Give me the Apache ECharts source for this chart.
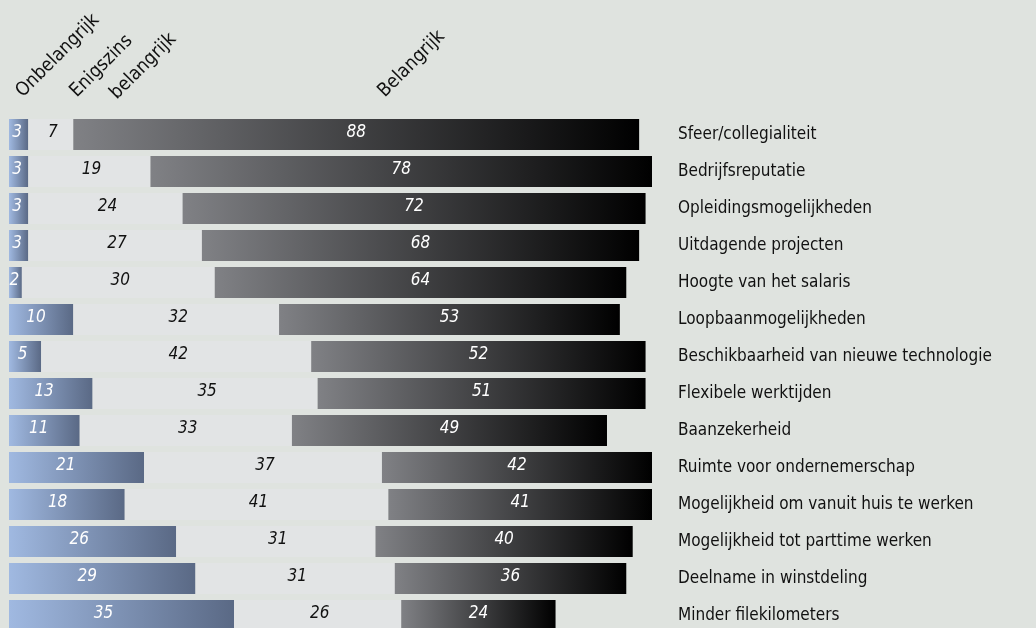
<!DOCTYPE html>
<html>
<head>
<meta charset="utf-8">
<script src="https://cdn.jsdelivr.net/npm/echarts@6/dist/echarts.min.js"></script>
<style>
  html, body { margin: 0; padding: 0; background: #dfe3df; }
  #chart { width: 1036px; height: 628px; }
</style>
</head>
<body>
<div id="chart"></div>
<script>
  const categories = [
    'Sfeer/collegialiteit', 'Bedrijfsreputatie', 'Opleidingsmogelijkheden',
    'Uitdagende projecten', 'Hoogte van het salaris', 'Loopbaanmogelijkheden',
    'Beschikbaarheid van nieuwe technologie', 'Flexibele werktijden', 'Baanzekerheid',
    'Ruimte voor ondernemerschap', 'Mogelijkheid om vanuit huis te werken',
    'Mogelijkheid tot parttime werken', 'Deelname in winstdeling', 'Minder filekilometers'
  ]
  const onbelangrijk = [3, 3, 3, 3, 2, 10, 5, 13, 11, 21, 18, 26, 29, 35]
  const enigszins = [7, 19, 24, 27, 30, 32, 42, 35, 33, 37, 41, 31, 31, 26]
  const belangrijk = [88, 78, 72, 68, 64, 53, 52, 51, 49, 42, 41, 40, 36, 24]

  const font = '"Liberation Sans Narrow", "DejaVu Sans Condensed", sans-serif'

  function grad(from, to) {
    return new echarts.graphic.LinearGradient(0, 0, 1, 0, [
      { offset: 0, color: from },
      { offset: 1, color: to }
    ])
  }

  // rotated column headers
  function header(text, x, y) {
    return {
      type: 'text', x: x, y: y, rotation: Math.PI / 4,
      style: { text: text, fill: '#111', font: '19px ' + font, textAlign: 'left', textVerticalAlign: 'bottom' }
    }
  }

  const chart = echarts.init(document.getElementById('chart'))
  chart.setOption({
    backgroundColor: '#dfe3df',
    animation: false,
    grid: { left: 9, top: 116, width: 643, height: 518, outerBoundsMode: 'none', containLabel: false },
    xAxis: {
      type: 'value', min: 0, max: 100, show: false
    },
    yAxis: {
      type: 'category',
      data: categories,
      inverse: true,
      position: 'right',
      axisLine: { show: false },
      axisTick: { show: false },
      axisLabel: {
        margin: 26,
        padding: [0, 0, 4, 0],
        color: '#111',
        fontFamily: font,
        fontSize: 17
      }
    },
    graphic: [
      header('Onbelangrijk', 26, 101),
      header('Enigszins', 80, 101),
      header('belangrijk', 120, 103),
      header('Belangrijk', 388, 101)
    ],
    series: [
      {
        name: 'Onbelangrijk', type: 'bar', stack: 'all', barWidth: 31,
        data: onbelangrijk,
        itemStyle: { color: grad('#a0b9e1', '#5a6985') },
        label: {
          show: true, position: ['42%', '45%'], align: 'center', verticalAlign: 'middle',
          color: '#fff', fontStyle: 'italic', fontFamily: font, fontSize: 17
        }
      },
      {
        name: 'Enigszins belangrijk', type: 'bar', stack: 'all', barWidth: 31,
        data: enigszins,
        itemStyle: { color: '#e2e4e5' },
        label: {
          show: true, position: 'inside', offset: [2, -2],
          color: '#111', fontStyle: 'italic', fontFamily: font, fontSize: 17
        }
      },
      {
        name: 'Belangrijk', type: 'bar', stack: 'all', barWidth: 31,
        data: belangrijk,
        itemStyle: { color: grad('#808185', '#000000') },
        label: {
          show: true, position: 'inside', offset: [0, -2],
          color: '#fff', fontStyle: 'italic', fontFamily: font, fontSize: 17
        }
      }
    ]
  })
</script>
</body>
</html>
